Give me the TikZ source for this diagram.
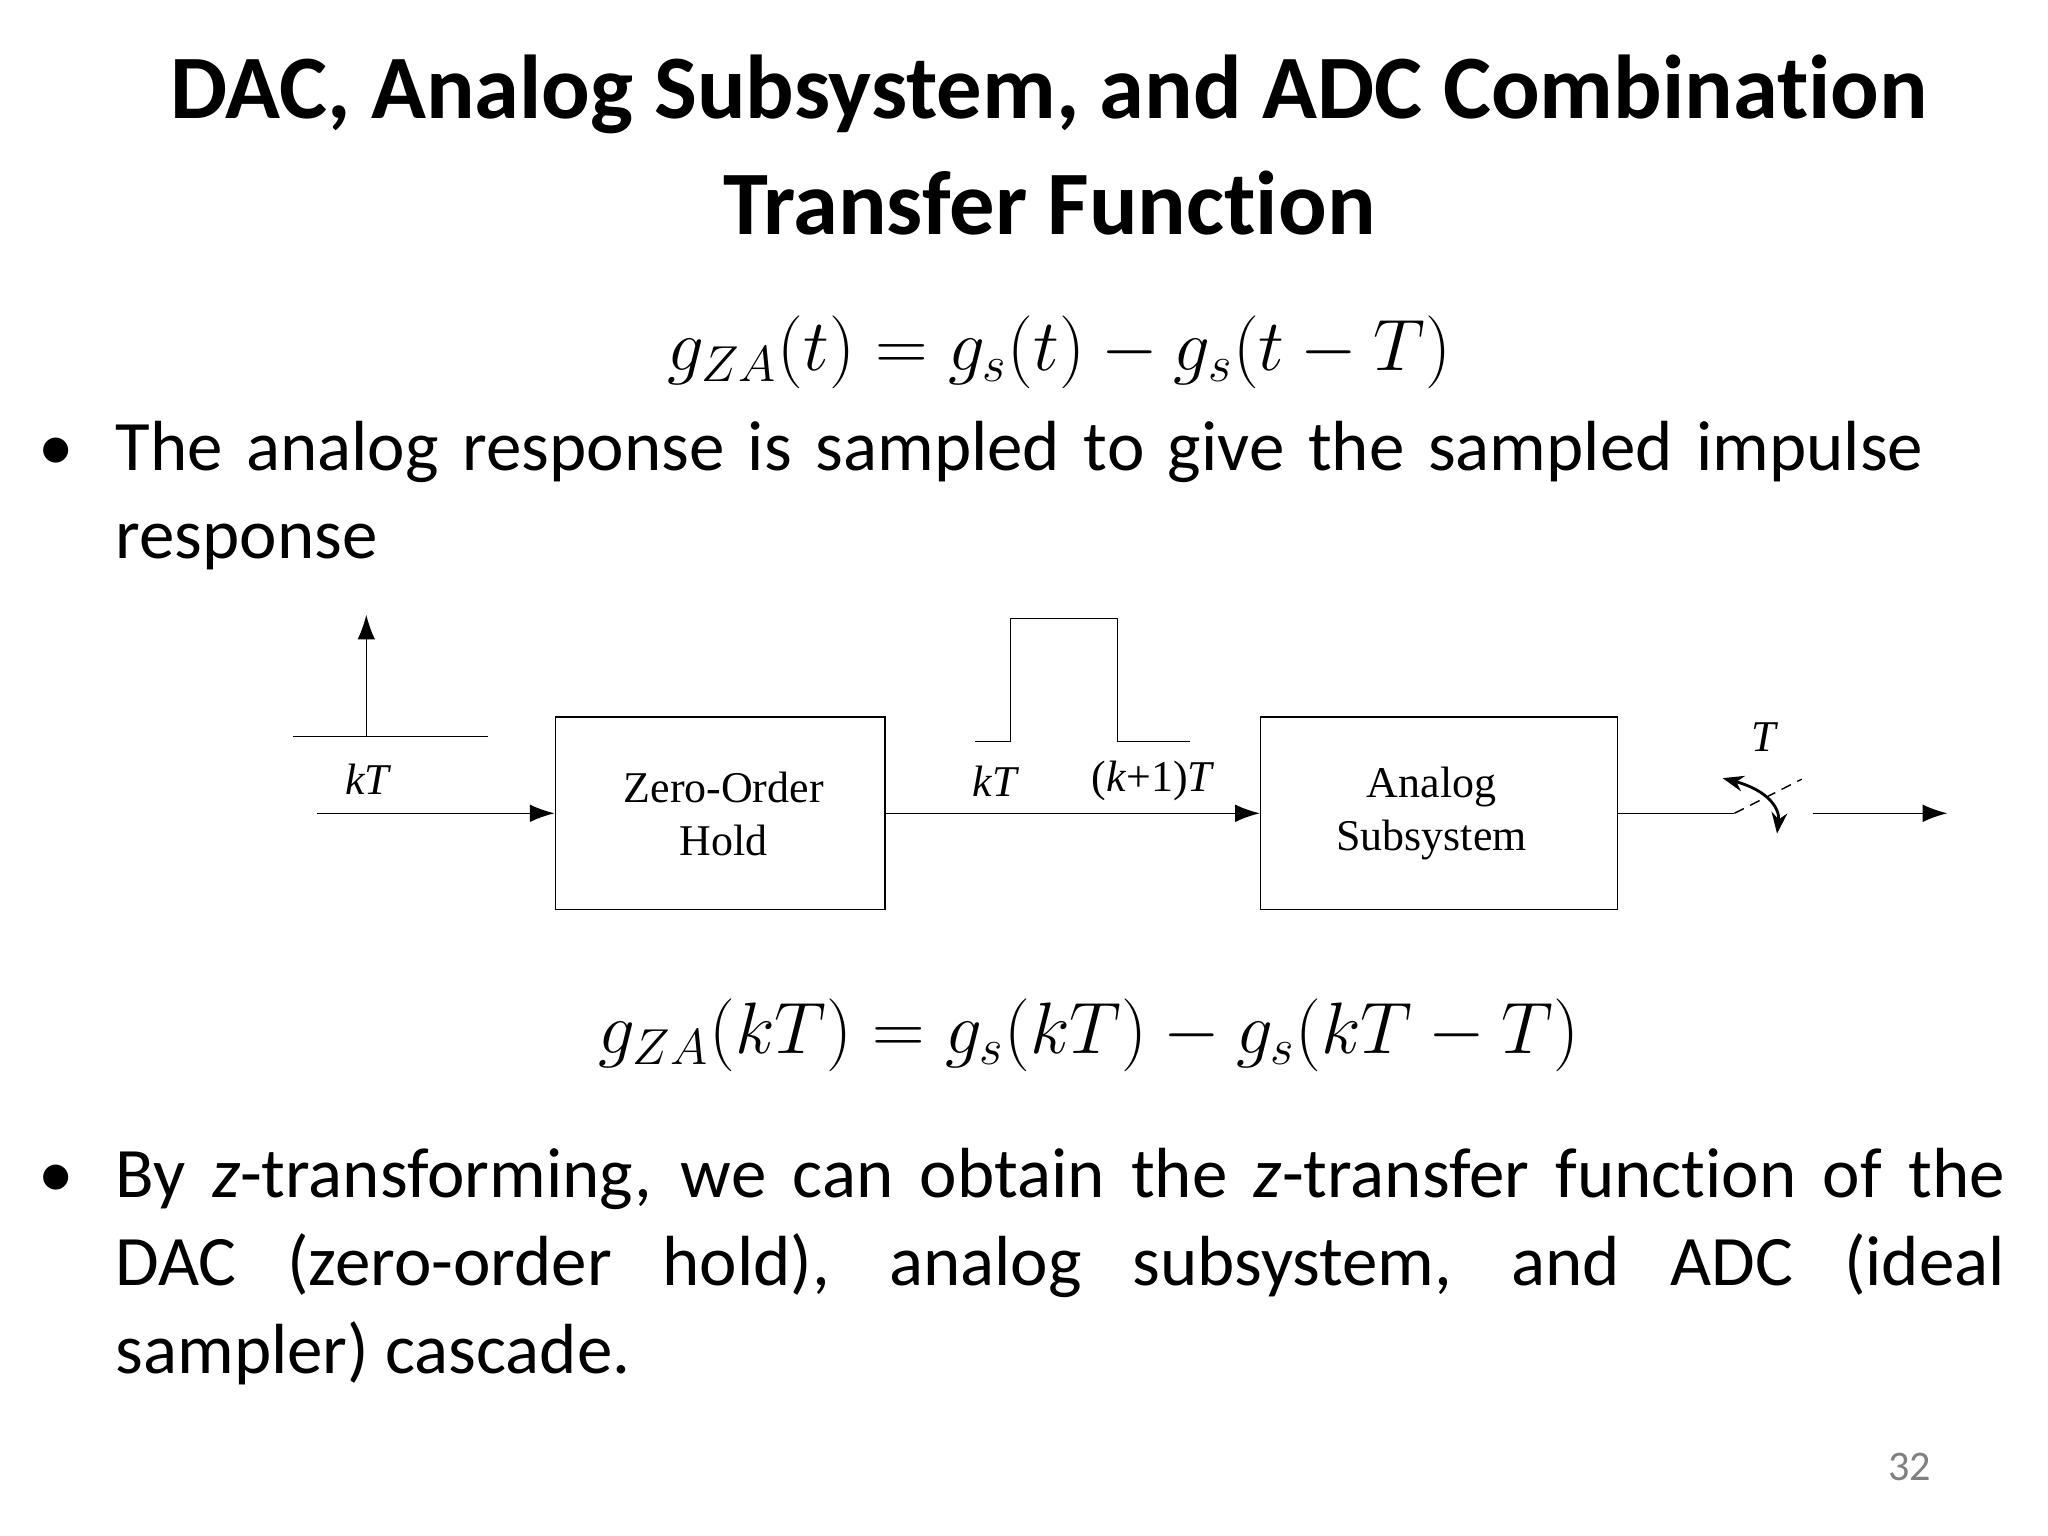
\documentclass[tikz,border=0pt]{standalone}
\usepackage{fontspec}
\setmainfont[Ligatures=NoCommon]{Carlito}
\newfontfamily\tms{Liberation Serif}
\usetikzlibrary{arrows.meta}
\hyphenpenalty=10000
\begin{document}
\begin{tikzpicture}[x=0.0099cm,y=-0.0099cm,
  ttl/.style={font=\fontsize{25.8}{30}\selectfont\bfseries},
  body/.style={font=\fontsize{20.2}{25}\selectfont, anchor=base west, inner sep=0},
  eqn/.style={font=\fontsize{22}{30}\selectfont},
  lab/.style={font=\tms\fontsize{12.5}{14}\selectfont\itshape},
  sig/.style={-{Latex[length=7pt,width=5pt]}}]
\useasboundingbox (0,0) rectangle (2068.7,1551.5);
\node[ttl] (t1) at (1060,95) {DAC, Analog Subsystem, and ADC Combination};
\node[ttl] (t2) at (1060,205) {Transfer Function};
\node[eqn] (e1) at (1070,356) {$g_{ZA}(t)=g_s(t)-g_s(t-T)$};
\node[body] (b1) at (38,475) {\textbullet};
\node[body, text width=18.9cm, align=left] (p1) at (116,475) {The analog response is sampled to give the sampled impulse response};
% diagram
\draw (296,744) -- (493,744);
\coordinate (imp) at (370,744);
\coordinate (imptop) at (370,621);
\draw[sig] (imp) -- (imptop);
\node[lab] (kt1) at (371,787) {kT};
\node[draw, minimum width=3.3cm, minimum height=1.93cm, inner sep=0] (zohb) at (727.5,821.5) {};
\node[align=center, font=\tms\fontsize{12.5}{15}\selectfont] (zoht) at (731,822) {Zero-Order\\Hold};
\coordinate (in) at (320,821.5);
\draw[sig] (in) -- (zohb.west);
\draw (985,749) -- (1021,749) -- (1021,625) -- (1129,625) -- (1129,749) -- (1202,749);
\node[lab] (kt2) at (1005,789) {kT};
\node[font=\tms\fontsize{12.5}{14}\selectfont] (k1t) at (1165,789) {(\textit{k}+1)\textit{T}};
\node[draw, minimum width=3.57cm, minimum height=1.93cm, inner sep=0] (ana) at (1453.5,821.5) {};
\node[align=center, font=\tms\fontsize{12.5}{15}\selectfont] (anat) at (1446,822) {Analog\\Subsystem};
\draw[sig] (zohb.east) -- (ana.west);
\coordinate (sw1) at (1752,821.5);
\coordinate (sw2) at (1820,787);
\draw (ana.east) -- (sw1);
\draw[densely dashed] (sw1) -- (sw2);
\draw[thick, {Stealth[length=6pt]}-{Stealth[length=6pt]}] (1740,786) .. controls (1785,798) and (1798,816) .. (1795,842);
\node[lab] (tsw) at (1782,745) {T};
\coordinate (o1) at (1831,821.5);
\coordinate (o2) at (1967,821.5);
\draw[sig] (o1) -- (o2);
\node[eqn] (e2) at (1100,1046) {$g_{ZA}(kT)=g_s(kT)-g_s(kT-T)$};
\node[body] (b2) at (38,1210) {\textbullet};
\node[body, text width=18.9cm, align=justify] (p2) at (116,1210) {By \textit{z}-transforming, we can obtain the \textit{z}-transfer function of the\linebreak DAC (zero-order hold), analog subsystem, and ADC (ideal\linebreak sampler) cascade.};
\node[font=\fontsize{12}{14}\selectfont, text=gray] (pg) at (1929,1482) {32};
\end{tikzpicture}
\end{document}
